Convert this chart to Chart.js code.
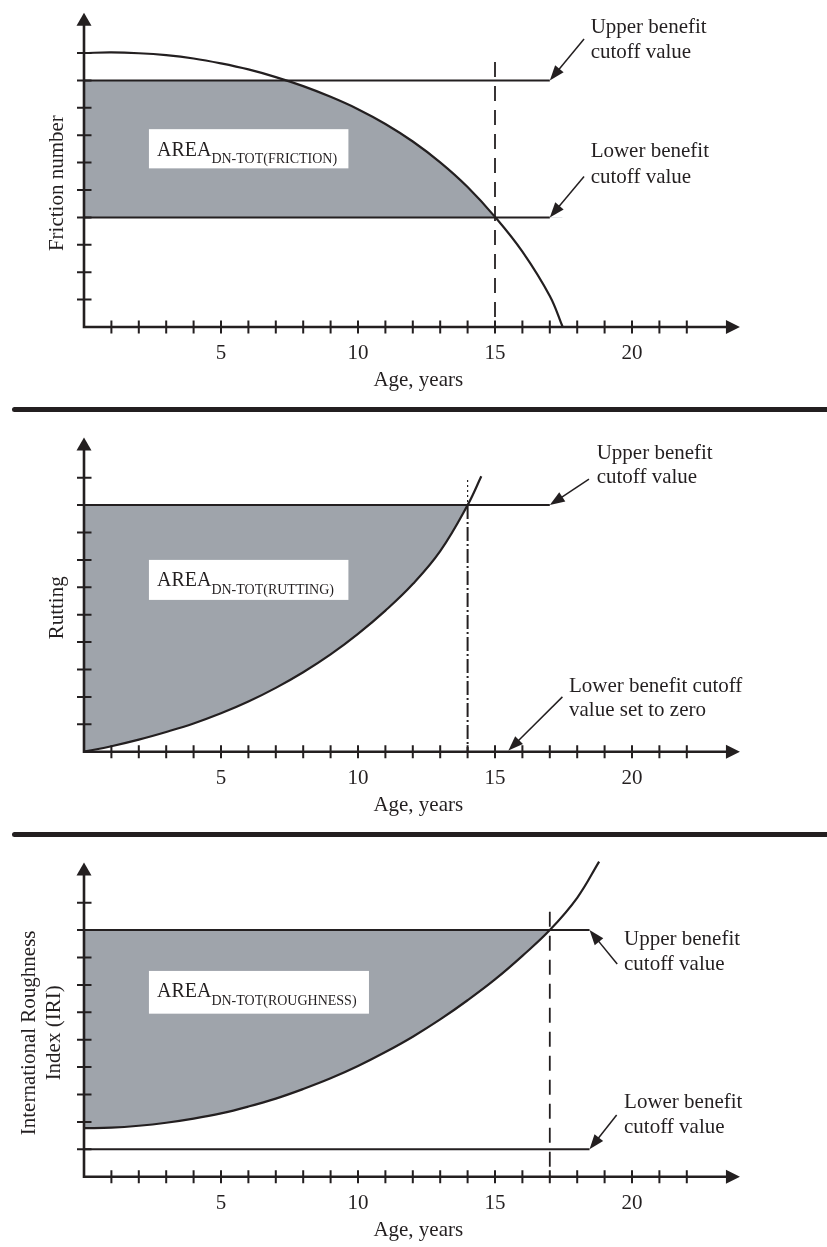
<!DOCTYPE html>
<html>
<head>
<meta charset="utf-8">
<script src="https://cdn.jsdelivr.net/npm/chart.js@4.4.0/dist/chart.umd.min.js"></script>
<style>
  html, body { margin: 0; padding: 0; background: #fff; }
  #page { position: relative; width: 827px; height: 1247px; overflow: hidden; }
  canvas { position: absolute; left: 0; }
  .rule { position: absolute; left: 12px; right: 0; height: 5px; background: #231f20; border-radius: 3px 0 0 3px; }
</style>
</head>
<body>
<div id="page">
  <canvas id="c1" width="827" height="400" style="top:0px"></canvas>
  <div class="rule" style="top:407px"></div>
  <canvas id="c2" width="827" height="418" style="top:412px"></canvas>
  <div class="rule" style="top:832px"></div>
  <canvas id="c3" width="827" height="409" style="top:838px"></canvas>
</div>
<script>
// --- data (x = age in years, y = condition units) ---
const frictionAge = [0, 1, 2, 3, 4, 5, 6, 7, 8, 9, 10, 11, 12, 13, 14, 15, 16, 17, 17.47];
const frictionNumber = [10.0, 10.02, 9.99, 9.92, 9.8, 9.62, 9.4, 9.12, 8.79, 8.4, 7.95, 7.41, 6.77, 6.01, 5.11, 4.02, 2.75, 1.13, 0];
const frictionCutoffs = [9, 4];          // upper, lower
const frictionCutoffEnd = 17;
const frictionAgeAtLower = 15;

const ruttingAge = [0, 1, 2, 3, 4, 5, 6, 7, 8, 9, 10, 11, 12, 13, 14, 14.5];
const ruttingDepth = [0, 0.2, 0.44, 0.72, 1.03, 1.4, 1.83, 2.33, 2.9, 3.55, 4.3, 5.15, 6.12, 7.32, 9.0, 10.05];
const ruttingCutoffs = [9, 0];
const ruttingCutoffEnd = 17;
const ruttingAgeAtUpper = 14;

const iriAge = [0, 1, 2, 3, 4, 5, 6, 7, 8, 9, 10, 11, 12, 13, 14, 15, 16, 17, 18, 18.8];
const iriValue = [1.77, 1.79, 1.86, 1.97, 2.12, 2.31, 2.56, 2.85, 3.2, 3.59, 4.04, 4.55, 5.11, 5.74, 6.44, 7.2, 8.06, 9.0, 10.18, 11.5];
const iriCutoffs = [9, 1];
const iriCutoffEnd = 18.45;
const iriAgeAtUpper = 17;

const ageTicks = [1, 2, 3, 4, 5, 6, 7, 8, 9, 10, 11, 12, 13, 14, 15, 16, 17, 18, 19, 20, 21, 22];
const ageTickLabels = [5, 10, 15, 20];
const valueTicks = [1, 2, 3, 4, 5, 6, 7, 8, 9, 10];

const INK = '#231f20';
const GRAY = '#9fa4ab';
const NONE = 'rgba(0,0,0,0)';
const SERIF = '"Liberation Serif", "Times New Roman", serif';
const UNIT = 27.4;        // pixels per year and per y step
const X_MAX = 24.4, Y_MAX = 10.5;
const X_ARROW = 23.94, Y_ARROW = 11.47;

const pts = (xs, ys) => xs.map((x, i) => ({ x: x, y: ys[i] }));
const hline = (y, x1) => [{ x: 0, y: y }, { x: x1, y: y }];
const vline = (x, y0, y1) => [{ x: x, y: y0 }, { x: x, y: y1 }];

function curveSet(data) {
  return { data: data, borderColor: INK, borderWidth: 2.2, pointRadius: 0,
           tension: 0.4, fill: false, clip: false, order: 0 };
}
function fillSet(data, value, above, below, order) {
  return { data: data, borderColor: NONE, borderWidth: 0, pointRadius: 0,
           tension: 0.4, order: order,
           fill: { target: { value: value }, above: above, below: below } };
}
function plainSet(data, width, dash) {
  return { data: data, borderColor: INK, borderWidth: width, borderDash: dash || [],
           pointRadius: 0, fill: false, tension: 0, order: 1 };
}

function arrowHead(ctx, fx, fy, tx, ty, len, half) {
  const a = Math.atan2(ty - fy, tx - fx);
  const bx = tx - len * Math.cos(a), by = ty - len * Math.sin(a);
  ctx.beginPath();
  ctx.moveTo(tx, ty);
  ctx.lineTo(bx + half * Math.sin(a), by - half * Math.cos(a));
  ctx.lineTo(bx - half * Math.sin(a), by + half * Math.cos(a));
  ctx.closePath();
  ctx.fill();
}

// draws axes with arrows, crossing tick marks, label box and call-outs
function sketch(p) {
  return {
    id: 'sketch',
    afterDatasetsDraw(chart) {
      const ctx = chart.ctx;
      const X = v => chart.scales.x.getPixelForValue(v);
      const Y = v => chart.scales.y.getPixelForValue(v);
      const b = p.box;
      const L = X(b.x0), R = X(b.x1), T = Y(b.yTop), B = Y(b.yBottom);
      ctx.save();
      ctx.fillStyle = '#fff';
      ctx.fillRect(L, T, R - L, B - T);
      ctx.fillStyle = INK;
      ctx.textAlign = 'left';
      ctx.textBaseline = 'alphabetic';
      ctx.font = '20px ' + SERIF;
      ctx.fillText('AREA', L + 8, T + 26.5);
      const w = ctx.measureText('AREA').width;
      ctx.font = '14px ' + SERIF;
      ctx.fillText(b.sub, L + 8 + w, T + 34);
      ctx.restore();
    },
    afterDraw(chart) {
      const ctx = chart.ctx;
      const X = v => chart.scales.x.getPixelForValue(v);
      const Y = v => chart.scales.y.getPixelForValue(v);
      const x0 = X(0), y0 = Y(0);
      ctx.save();
      ctx.strokeStyle = INK;
      ctx.fillStyle = INK;
      ctx.lineCap = 'butt';

      // axes
      ctx.lineWidth = 2.6;
      ctx.beginPath();
      ctx.moveTo(x0 - 1.3, y0);
      ctx.lineTo(X(X_ARROW) - 12, y0);
      ctx.moveTo(x0, y0);
      ctx.lineTo(x0, Y(Y_ARROW) + 11);
      ctx.stroke();
      arrowHead(ctx, x0, y0, X(X_ARROW), y0, 14, 7);
      arrowHead(ctx, x0, y0, x0, Y(Y_ARROW), 13, 7.5);

      // tick marks crossing the axes
      ctx.lineWidth = 2;
      ctx.beginPath();
      ageTicks.forEach(v => { ctx.moveTo(X(v), y0 - 6.5); ctx.lineTo(X(v), y0 + 6.5); });
      valueTicks.forEach(v => { ctx.moveTo(x0 - 7, Y(v)); ctx.lineTo(x0 + 7.5, Y(v)); });
      ctx.stroke();

      // call-outs
      ctx.font = '21px ' + SERIF;
      ctx.textAlign = 'left';
      ctx.textBaseline = 'alphabetic';
      p.notes.forEach(n => {
        n.text.forEach((t, i) => ctx.fillText(t, X(n.x), Y(n.y[i])));
        const fx = X(n.from[0]), fy = Y(n.from[1]), tx = X(n.to[0]), ty = Y(n.to[1]);
        const a = Math.atan2(ty - fy, tx - fx);
        ctx.lineWidth = 1.5;
        ctx.beginPath();
        ctx.moveTo(fx, fy);
        ctx.lineTo(tx - 10 * Math.cos(a), ty - 10 * Math.sin(a));
        ctx.stroke();
        arrowHead(ctx, fx, fy, tx, ty, 15, 5.5);
      });
      ctx.restore();
    }
  };
}

function makeChart(p) {
  const plotH = Y_MAX * UNIT;
  const font = { family: SERIF, size: 21 };
  return new Chart(document.getElementById(p.canvas).getContext('2d'), {
    type: 'line',
    data: { datasets: p.datasets },
    options: {
      responsive: false,
      animation: false,
      events: [],
      layout: { padding: { left: 0, top: p.axisY - plotH, right: 827 - 84 - X_MAX * UNIT, bottom: p.height - p.axisY - 70 } },
      scales: {
        x: {
          type: 'linear', min: 0, max: X_MAX,
          afterFit: s => { s.height = 70; },
          grid: { display: false, drawTicks: false },
          border: { display: false },
          ticks: {
            stepSize: 1, autoSkip: false, maxRotation: 0, padding: 14, color: INK, font: font,
            callback: v => ageTickLabels.includes(v) ? String(v) : ''
          },
          title: { display: true, text: 'Age, years', color: INK, font: font, padding: { top: 0, bottom: 4 } }
        },
        y: {
          type: 'linear', min: 0, max: Y_MAX,
          afterFit: s => { s.width = 84; },
          grid: { display: false, drawTicks: false },
          border: { display: false },
          ticks: { display: false },
          title: { display: true, text: p.yTitle, color: INK, font: font, padding: { top: p.titlePad, bottom: 0 } }
        }
      },
      plugins: { legend: { display: false }, tooltip: { enabled: false } }
    },
    plugins: [sketch(p)]
  });
}

const friction = pts(frictionAge, frictionNumber);
makeChart({
  canvas: 'c1', height: 400, axisY: 327, yTitle: 'Friction number', titlePad: 45,
  box: { x0: 2.37, x1: 9.65, yTop: 7.22, yBottom: 5.79, sub: 'DN-TOT(FRICTION)' },
  notes: [
    { text: ['Upper benefit', 'cutoff value'], x: 18.49, y: [10.72, 9.81], from: [18.25, 10.51], to: [frictionCutoffEnd, frictionCutoffs[0]] },
    { text: ['Lower benefit', 'cutoff value'], x: 18.49, y: [6.19, 5.27], from: [18.25, 5.49], to: [frictionCutoffEnd, frictionCutoffs[1]] }
  ],
  datasets: [
    curveSet(friction),
    plainSet(hline(frictionCutoffs[0], frictionCutoffEnd), 2),
    plainSet(hline(frictionCutoffs[1], frictionCutoffEnd), 2),
    plainSet(vline(frictionAgeAtLower, 9.67, 0), 1.8, [15, 9]),
    fillSet(friction, frictionCutoffs[0], '#ffffff', NONE, 10),
    fillSet(friction, frictionCutoffs[1], GRAY, NONE, 11)
  ]
});

const rutting = pts(ruttingAge, ruttingDepth);
makeChart({
  canvas: 'c2', height: 418, axisY: 339.7, yTitle: 'Rutting', titlePad: 45,
  box: { x0: 2.37, x1: 9.65, yTop: 7.0, yBottom: 5.54, sub: 'DN-TOT(RUTTING)' },
  notes: [
    { text: ['Upper benefit', 'cutoff value'], x: 18.71, y: [10.67, 9.80], from: [18.43, 9.95], to: [ruttingCutoffEnd, ruttingCutoffs[0]] },
    { text: ['Lower benefit cutoff', 'value set to zero'], x: 17.7, y: [2.19, 1.30], from: [17.46, 2.0], to: [15.49, ruttingCutoffs[1] + 0.04] }
  ],
  datasets: [
    curveSet(rutting),
    plainSet(hline(ruttingCutoffs[0], ruttingCutoffEnd), 2),
    plainSet(vline(ruttingAgeAtUpper, 9.92, 9), 1.2, [2, 3]),
    plainSet(vline(ruttingAgeAtUpper, 9, 0), 2, [14, 3, 2, 3]),
    fillSet(rutting, ruttingCutoffs[0], NONE, GRAY, 10)
  ]
});

const iri = pts(iriAge, iriValue);
makeChart({
  canvas: 'c3', height: 409, axisY: 338.7, yTitle: ['International Roughness', 'Index (IRI)'], titlePad: 17,
  box: { x0: 2.37, x1: 10.4, yTop: 7.51, yBottom: 5.95, sub: 'DN-TOT(ROUGHNESS)' },
  notes: [
    { text: ['Upper benefit', 'cutoff value'], x: 19.71, y: [8.46, 7.54], from: [19.46, 7.76], to: [iriCutoffEnd, iriCutoffs[0]] },
    { text: ['Lower benefit', 'cutoff value'], x: 19.71, y: [2.5, 1.58], from: [19.44, 2.25], to: [iriCutoffEnd, iriCutoffs[1]] }
  ],
  datasets: [
    curveSet(iri),
    plainSet(hline(iriCutoffs[0], iriCutoffEnd), 2),
    plainSet(hline(iriCutoffs[1], iriCutoffEnd), 2),
    plainSet(vline(iriAgeAtUpper, 9.67, 0), 1.8, [15, 9]),
    fillSet(iri, iriCutoffs[0], NONE, GRAY, 10)
  ]
});
</script>
</body>
</html>
